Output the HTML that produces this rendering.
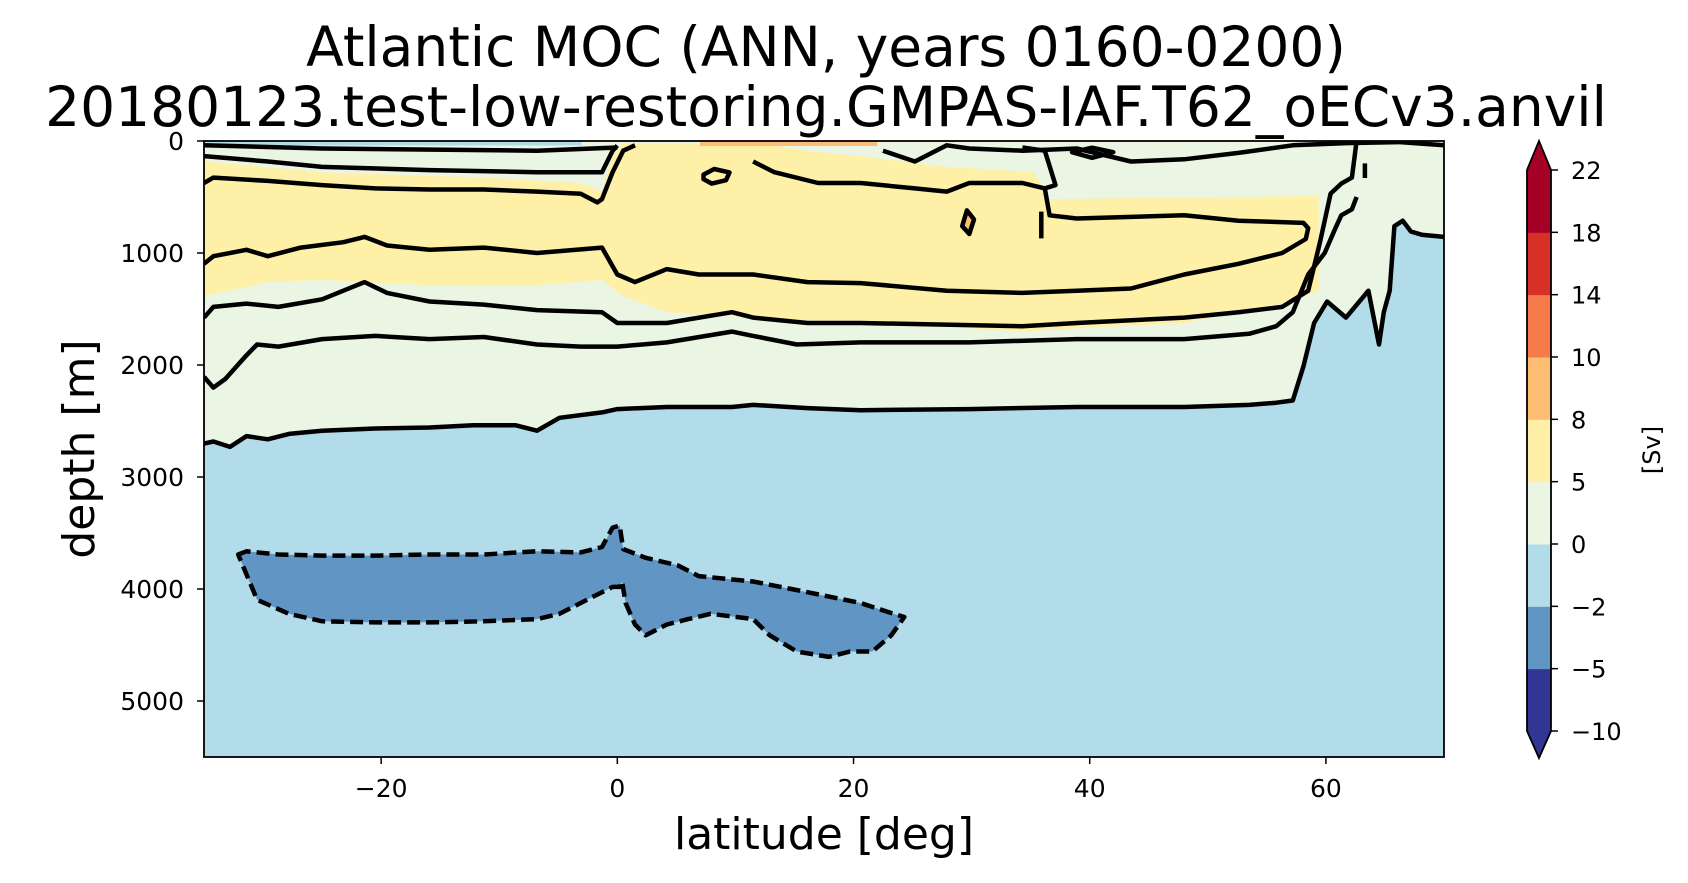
<!DOCTYPE html>
<html><head><meta charset="utf-8"><style>
body{margin:0;background:#fff;font-family:"Liberation Sans",sans-serif;}
svg text{font-family:"DejaVu Sans","Liberation Sans",sans-serif;fill:#000;}
</style></head><body>
<svg id="chart" width="1688" height="878" viewBox="0 0 1688 878" xmlns="http://www.w3.org/2000/svg">
<text x="826" y="66" font-size="55" text-anchor="middle">Atlantic MOC (ANN, years 0160-0200)</text>
<text x="826" y="126" font-size="55" text-anchor="middle">20180123.test-low-restoring.GMPAS-IAF.T62_oECv3.anvil</text>
<clipPath id="clip"><rect x="204" y="141" width="1240" height="616"/></clipPath>
<g id="plot" clip-path="url(#clip)"></g>
<rect x="204" y="141" width="1240" height="616" fill="none" stroke="#000" stroke-width="1.8"/>
<g id="axes"></g>
<text x="824" y="849" font-size="44" text-anchor="middle">latitude [deg]</text>
<text transform="translate(94,449) rotate(-90)" font-size="44" text-anchor="middle">depth [m]</text>
<g id="cbar"></g>
<text transform="translate(1660,450) rotate(-90)" font-size="24" text-anchor="middle">[Sv]</text>
</svg>
<script>
const xTicks=[-20,0,20,40,60];
const yTicks=[0,1000,2000,3000,4000,5000];
const cbLevels=[-10,-5,-2,0,5,8,10,14,18,22];
const cbColors=['#313695','#6195c4','#b2dcea','#eaf5e4','#fff0a8','#fdbe73','#f57c4a','#d73027','#a50026'];
const greenRegion=[[-35,2702],[-34.2,2683],[-32.8,2731],[-31.4,2635],[-29.6,2663],[-27.8,2615],[-25,2587],[-20.5,2567],[-15.9,2558],[-12.2,2538],[-8.6,2538],[-6.8,2587],[-4.9,2471],[-1.3,2423],[0,2394],[4.2,2375],[9.7,2375],[11.5,2356],[16.1,2385],[20.6,2404],[29.8,2394],[38.9,2375],[48,2375],[53.5,2356],[55.8,2337],[57.2,2317],[58.1,2010],[59,1625],[60.1,1433],[61.7,1577],[63.6,1337],[64.5,1817],[64.9,1529],[65.4,1337],[65.8,760],[66.5,712],[67.2,808],[68.1,837],[70,856],[70,0],[-35,0]];
const yellowRegion=[[-35,183],[-25,279],[-11.3,327],[-3.1,375],[-1.3,452],[-0.4,135],[0.5,19],[11.5,19],[16.1,87],[20.6,135],[27.9,231],[35.3,279],[36.6,519],[59.4,490],[59.4,1337],[57.2,1433],[52.6,1529],[48,1625],[38.9,1673],[34.3,1702],[29.8,1673],[20.6,1625],[11.5,1577],[4.2,1529],[0.5,1385],[-1.3,1240],[-6.8,1288],[-15.9,1288],[-25,1240],[-29.6,1260],[-35,1385]];
const blueTopRegion=[[-35,0],[-3,0],[-3,40],[-35,40]];
const orangeTopRegion=[[7,0],[22,0],[22,45],[7,45]];
const negRegion=[[-32.1,3692],[-31.4,3663],[-28.7,3692],[-25,3702],[-20.5,3702],[-15.9,3692],[-11.3,3692],[-6.8,3663],[-3.1,3673],[-1.3,3625],[-0.4,3452],[0.2,3433],[0.5,3644],[2.4,3721],[5.1,3788],[6.9,3885],[11.5,3933],[16.1,4029],[20.6,4125],[23.4,4221],[24.3,4250],[23.2,4413],[21.6,4558],[19.7,4558],[17.9,4606],[15.2,4558],[12.9,4413],[11.5,4269],[7.9,4221],[6,4269],[4.2,4317],[3.3,4365],[2.4,4413],[1.5,4317],[0.7,4125],[0.4,3933],[0.2,3981],[-0.4,3981],[-1.3,4029],[-3.1,4125],[-4.9,4221],[-6.8,4269],[-11.3,4288],[-15.9,4298],[-20.5,4298],[-25,4288],[-27.8,4221],[-30.5,4096]];
const orangeBlob=[[29.6,620],[30.2,700],[29.8,830],[29.2,760]];
const contour0=greenRegion.slice(0,39);
const contour2000=[[-35,2106],[-34.2,2202],[-33.2,2125],[-31.4,1913],[-30.5,1817],[-28.7,1836],[-25,1769],[-20.5,1740],[-15.9,1769],[-11.3,1750],[-6.8,1817],[-3.1,1836],[0,1836],[4.2,1798],[9.7,1702],[11.5,1740],[15.2,1817],[20.6,1798],[29.8,1798],[38.9,1769],[48,1769],[53.5,1721],[55.8,1654],[57.2,1529],[58.5,1192],[59.9,1000],[60.8,779],[61.3,663],[62.2,610],[62.6,500]];
const contour1600=[[-35,1577],[-34.2,1481],[-31.4,1452],[-28.7,1481],[-25,1413],[-21.4,1260],[-19.5,1356],[-15.9,1433],[-11.3,1461],[-6.8,1510],[-1.3,1529],[0,1625],[4.2,1625],[9.7,1529],[11.5,1577],[16.1,1625],[20.6,1625],[29.8,1644],[34.3,1654],[38.9,1625],[48,1577],[52.6,1529],[56.3,1481],[58.5,1337],[59.5,904],[60.4,470],[61.3,380],[62.2,327],[62.6,0]];
const contour1000=[[-35,1096],[-34.2,1029],[-31.4,971],[-29.6,1029],[-26.8,952],[-23.2,904],[-21.4,856],[-19.5,933],[-15.9,971],[-11.3,952],[-6.8,1000],[-1.3,952],[0,1192],[1.5,1260],[4.2,1144],[6.9,1192],[11.5,1192],[16.1,1260],[20.6,1269],[27.9,1337],[34.3,1356],[38.9,1337],[43.5,1317],[48,1192],[52.6,1096],[56.3,1000],[58.3,875],[58.5,779],[58.1,731],[52.6,712],[48,663],[38.9,692],[36.6,663],[36.2,423]];
const contour500=[[-35,375],[-34.2,327],[-29.6,356],[-25,394],[-20.5,423],[-15.9,433],[-11.3,433],[-6.8,452],[-3.1,471],[-1.7,548],[-1.3,519],[-0.4,279],[0.5,87],[1.5,38]];
const contourMid=[[11.5,183],[13.3,279],[17,375],[20.6,375],[25.2,423],[27.9,452],[29.8,375],[34.3,375],[36.2,423],[37.1,394],[36.2,87],[34.3,58]];
const contour300=[[-35,135],[-29.6,183],[-25,231],[-15.9,260],[-6.8,279],[-1.3,279],[-0.4,87],[0,40]];
const contour100=[[-35,38],[-25,67],[-6.8,87],[0,58]];
const contourTopRight=[[22.5,87],[25.2,183],[27.9,38],[29.8,67],[34.3,87],[38.9,67],[43.5,183],[48,163],[52.6,106],[57.2,38],[61.7,19],[66.3,10],[70,38]];
const loopA=[[7.3,300],[8.2,250],[9.5,280],[9.2,350],[8,380],[7.3,340]];
const loopB=[[38.5,100],[40.2,60],[42,100],[40.2,150]];
const tickLine1=[[35.9,630],[35.9,870]];
const tickLine2=[[63.3,200],[63.3,330]];

const X=lat=>204+(lat+35)*(1240/105);
const Y=d=>141+d*(616/5500);
const NS='http://www.w3.org/2000/svg';
const plot=document.getElementById('plot');
function pts(a){return a.map(p=>X(p[0]).toFixed(1)+','+Y(p[1]).toFixed(1)).join(' ');}
function poly(a,fill,name){const e=document.createElementNS(NS,'polygon');e.setAttribute('points',pts(a));e.setAttribute('fill',fill);


plot.appendChild(e);return e;}
function line(a,name,dash,closed){const e=document.createElementNS(NS,closed?'polygon':'polyline');e.setAttribute('points',pts(a));e.setAttribute('fill','none');e.setAttribute('stroke','#000');e.setAttribute('stroke-width','4.5');e.setAttribute('stroke-linejoin','round');if(dash)e.setAttribute('stroke-dasharray','13,6');


plot.appendChild(e);}
const bg=document.createElementNS(NS,'rect');bg.setAttribute('x',204);bg.setAttribute('y',141);bg.setAttribute('width',1240);bg.setAttribute('height',616);bg.setAttribute('fill',cbColors[2]);


plot.appendChild(bg);
poly(greenRegion,cbColors[3],'region-0-5sv');
poly(yellowRegion,cbColors[4],'region-5-8sv');
poly(blueTopRegion,cbColors[2],'surface-negative-region');
poly(orangeTopRegion,cbColors[5],'surface-orange-region');
poly(orangeBlob,cbColors[5],'orange-blob');
poly(negRegion,cbColors[1],'region-minus5-minus2sv');
line(contour0,'contour-0');
line(contour2000,'contour-2000m');
line(contour1600,'contour-1600m');
line(contour1000,'contour-1000m');
line(contour500,'contour-500m');
line(contourMid,'contour-mid');
line(contour300,'contour-300m');
line(contour100,'contour-100m');
line(contourTopRight,'contour-top-right');
line(loopA,'contour-loop-a',false,true);
line(loopB,'contour-loop-b',false,true);
line(orangeBlob,'contour-orange-blob',false,true);
line(tickLine1,'contour-fragment-1');
line(tickLine2,'contour-fragment-2');
line(negRegion,'contour-negative',true,true);

const axes=document.getElementById('axes');
function txt(parent,x,y,s,anchor,size,name){const t=document.createElementNS(NS,'text');t.setAttribute('x',x);t.setAttribute('y',y);t.setAttribute('font-size',size);t.setAttribute('text-anchor',anchor);t.textContent=s;


parent.appendChild(t);}
function tk(parent,x1,y1,x2,y2,name){const l=document.createElementNS(NS,'line');l.setAttribute('x1',x1);l.setAttribute('y1',y1);l.setAttribute('x2',x2);l.setAttribute('y2',y2);l.setAttribute('stroke','#000');l.setAttribute('stroke-width','1.5');


parent.appendChild(l);}
xTicks.forEach(v=>{const x=X(v);tk(axes,x,757,x,764,'x-tick');txt(axes,x,797,String(v).replace('-','\u2212'),'middle',25,'x-tick-label');});
yTicks.forEach(v=>{const y=Y(v);tk(axes,197,y,204,y,'y-tick');txt(axes,184,y+9,String(v),'end',25,'y-tick-label');});

const cb=document.getElementById('cbar');
const cbTop=170,cbBot=731,cx0=1527,cx1=1551;
const step=(cbBot-cbTop)/(cbLevels.length-1);
const CY=i=>cbBot-i*step;
for(let i=0;i<cbColors.length;i++){const r=document.createElementNS(NS,'rect');r.setAttribute('x',cx0);r.setAttribute('y',CY(i+1));r.setAttribute('width',cx1-cx0);r.setAttribute('height',step+0.5);r.setAttribute('fill',cbColors[i]);


cb.appendChild(r);}
const up=document.createElementNS(NS,'polygon');up.setAttribute('points',`${cx0},${cbTop} ${cx1},${cbTop} ${(cx0+cx1)/2},141`);up.setAttribute('fill',cbColors[8]);


cb.appendChild(up);
const dn=document.createElementNS(NS,'polygon');dn.setAttribute('points',`${cx0},${cbBot} ${cx1},${cbBot} ${(cx0+cx1)/2},758`);dn.setAttribute('fill',cbColors[0]);


cb.appendChild(dn);
const ol=document.createElementNS(NS,'polygon');ol.setAttribute('points',`${cx0},${cbTop} ${(cx0+cx1)/2},141 ${cx1},${cbTop} ${cx1},${cbBot} ${(cx0+cx1)/2},758 ${cx0},${cbBot}`);ol.setAttribute('fill','none');ol.setAttribute('stroke','#000');ol.setAttribute('stroke-width','1.8');


cb.appendChild(ol);
cbLevels.forEach((v,i)=>{const y=CY(i);tk(cb,cx1,y,cx1+7,y,'colorbar-tick');txt(cb,cx1+20,y+9,String(v).replace('-','\u2212'),'start',24,'colorbar-tick-label');});
</script>
</body></html>
